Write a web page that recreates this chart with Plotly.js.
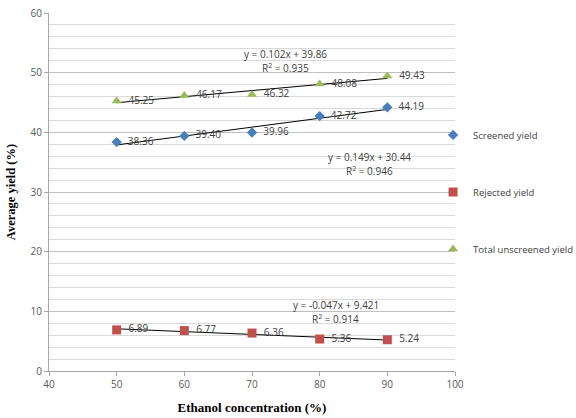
<!DOCTYPE html>
<html><head><meta charset="utf-8">
<script src="https://cdn.plot.ly/plotly-3.0.1.min.js"></script>
<style>html,body{margin:0;padding:0;background:#fff}#chart{width:576px;height:418px}</style>
</head><body><div id="chart"></div>
<script>
const ethanol = [50, 60, 70, 80, 90];
const screened = [38.36, 39.40, 39.96, 42.72, 44.19];
const rejected = [6.89, 6.77, 6.36, 5.36, 5.24];
const total = [45.25, 46.17, 46.32, 48.08, 49.43];
const seriesNames = ['Screened yield', 'Rejected yield', 'Total unscreened yield'];
const slopes = [0.149, -0.047, 0.102];
const intercepts = [30.44, 9.421, 39.86];
const rsq = [0.946, 0.914, 0.935];
const xTicks = [40, 50, 60, 70, 80, 90, 100];
const yTicks = [0, 10, 20, 30, 40, 50, 60];

const colors = ['#4a7ebb', '#c0504d', '#9bbb59'];
const symbols = ['diamond', 'square', 'triangle-up'];
const sizes = [8, 9, 9];
const ys = [screened, rejected, total];

const traces = [];
ys.forEach((vals, i) => {
  traces.push({
    x: ethanol, y: vals, type: 'scatter', mode: 'markers+text',
    name: seriesNames[i], legendgroup: 'g' + i,
    marker: {color: colors[i], symbol: symbols[i], size: sizes[i]},
    text: vals.map(v => '  ' + v.toFixed(2)),
    textposition: 'middle right',
    textfont: {family: 'Open Sans, sans-serif', size: 10, color: '#404040'},
    cliponaxis: false
  });
});
// trendlines from displayed equations
ys.forEach((vals, i) => {
  const xs = [ethanol[0], ethanol[ethanol.length - 1]];
  traces.push({
    x: xs, y: xs.map(x => slopes[i] * x + intercepts[i]),
    type: 'scatter', mode: 'lines', showlegend: false, hoverinfo: 'skip',
    line: {color: '#000', width: 1}
  });
});
const ordered = traces.slice(3).concat(traces.slice(0, 3));

function eq(i) {
  const s = slopes[i];
  return 'y = ' + (s < 0 ? '-' : '') + Math.abs(s).toFixed(3) + 'x + ' + intercepts[i];
}
const eqPos = [[87.4, 35.9], [82.4, 11.1], [74.9, 53.1]];
const annotations = [];
eqPos.forEach((p, i) => {
  annotations.push({x: p[0], y: p[1], xref: 'x', yref: 'y', text: eq(i), showarrow: false,
    font: {family: 'Open Sans, sans-serif', size: 10, color: '#404040'}});
  annotations.push({x: p[0], y: p[1], xref: 'x', yref: 'y', text: 'R<sup>2</sup> = ' + rsq[i].toFixed(3), showarrow: false,
    font: {family: 'Open Sans, sans-serif', size: 10, color: '#404040'}, yshift: -14});
});

const layout = {
  width: 576, height: 418,
  margin: {l: 49, r: 121, t: 13, b: 47, autoexpand: false},
  paper_bgcolor: '#fff', plot_bgcolor: '#fff',
  showlegend: true,
  legend: {x: 0.946, xanchor: 'left', y: 0.70, yanchor: 'top', tracegroupgap: 38,
    font: {family: 'Open Sans, sans-serif', size: 9.5, color: '#404040'},
    itemwidth: 30, bgcolor: 'rgba(0,0,0,0)'},
  xaxis: {range: [40, 100], tickvals: xTicks, ticktext: xTicks.map(String),
    showgrid: false, zeroline: false, showline: true, linecolor: '#a6a6a6', linewidth: 1,
    ticks: 'outside', ticklen: 4, tickcolor: '#a6a6a6',
    tickfont: {family: 'Open Sans, sans-serif', size: 10, color: '#595959'},
    title: {text: '<b>Ethanol concentration (%)</b>', standoff: 12,
      font: {family: 'Liberation Serif, Times New Roman, serif', size: 13, color: '#000'}}},
  yaxis: {range: [0, 60], tickvals: yTicks, ticktext: yTicks.map(String),
    showgrid: true, gridcolor: '#bfbfbf', gridwidth: 1, zeroline: false,
    showline: true, linecolor: '#a6a6a6', linewidth: 1,
    ticks: 'outside', ticklen: 4, tickcolor: '#a6a6a6',
    minor: {dtick: 2, showgrid: true, gridcolor: '#d9d9d9', gridwidth: 1, ticks: ''},
    tickfont: {family: 'Open Sans, sans-serif', size: 10, color: '#595959'},
    title: {text: '<b>Average yield (%)</b>', standoff: 12,
      font: {family: 'Liberation Serif, Times New Roman, serif', size: 12.5, color: '#000'}}},
  annotations: annotations
};
Plotly.newPlot('chart', ordered, layout, {displayModeBar: false, staticPlot: true});
</script></body></html>
